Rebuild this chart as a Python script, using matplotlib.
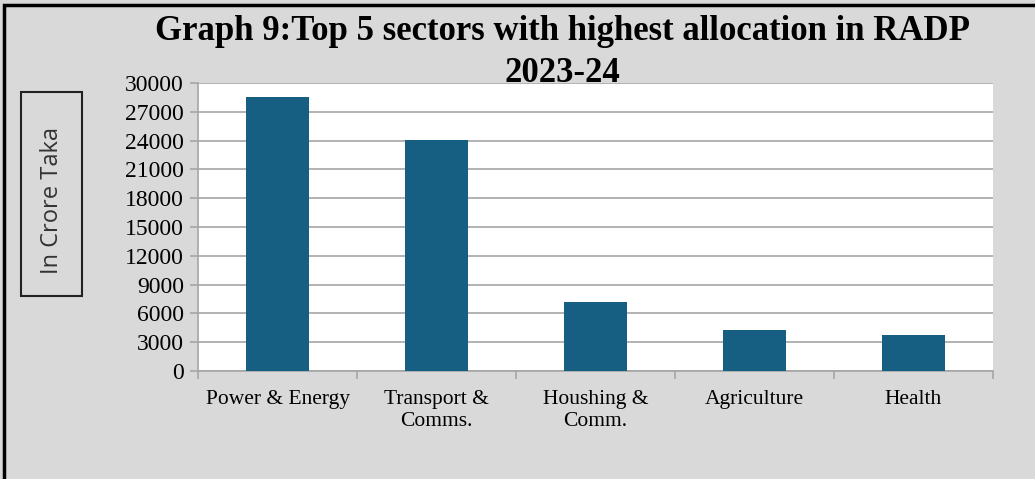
import matplotlib
matplotlib.use("Agg")
import matplotlib.pyplot as plt
from matplotlib.patches import Rectangle
import numpy as np

categories = ["Power & Energy", "Transport &\nComms.", "Houshing &\nComm.", "Agriculture", "Health"]
values = [28550, 24100, 7150, 4300, 3800]
yticks = list(range(0, 30001, 3000))

bg = "#d9d9d9"
bar_color = "#175f82"
grid_color = "#a6a6a6"
serif = ["Liberation Serif", "DejaVu Serif"]

fig = plt.figure(figsize=(10.35, 4.79), dpi=100, facecolor=bg)
ax = fig.add_axes([198/1035, 1-371/479, (993-198)/1035, (371-83)/479])
ax.set_facecolor("white")

x = np.arange(len(categories))
ax.bar(x, values, width=0.4, color=bar_color, zorder=3)
ax.set_xlim(-0.5, len(categories)-0.5)
ax.set_ylim(0, 30000)
ax.set_yticks(yticks)
ax.set_yticklabels([str(t) for t in yticks], fontfamily=serif, fontsize=17)
ax.yaxis.grid(True, color=grid_color, linewidth=1.2, zorder=0)
ax.set_axisbelow(True)

ax.set_xticks(np.arange(len(categories)+1) - 0.5)
ax.set_xticklabels([])
ax.set_xticks(x, minor=True)
ax.set_xticklabels(categories, minor=True, fontfamily=serif, fontsize=15.5, linespacing=1.2)
ax.tick_params(axis="x", which="minor", length=0, pad=14)
ax.tick_params(axis="x", which="major", length=6, color=grid_color, width=1.2, direction="out")
ax.tick_params(axis="y", length=6, color=grid_color, width=1.2, direction="out", pad=4)

for s in ["top", "right"]:
    ax.spines[s].set_visible(False)
for s in ["left", "bottom"]:
    ax.spines[s].set_color(grid_color)
    ax.spines[s].set_linewidth(1.2)

fig.text(0.543, 1-32/479, "Graph 9:Top 5 sectors with highest allocation in RADP",
         ha="center", va="center", fontfamily=serif, fontweight="bold", fontsize=25)
fig.text(0.543, 1-73/479, "2023-24",
         ha="center", va="center", fontfamily=serif, fontweight="bold", fontsize=25)

# y-label box
fig.patches.append(Rectangle((21/1035, 1-296/479), 61/1035, 204/479, transform=fig.transFigure,
                             facecolor=bg, edgecolor="#222222", linewidth=1.5))
fig.text(52/1035, 1-201/479, "In Crore Taka", rotation=90, ha="center", va="center",
         fontfamily=["Open Sans", "DejaVu Sans"], fontsize=17, color="#333333")

# figure border
fig.patches.append(Rectangle((0.004, -0.01), 1.2, 1.0, transform=fig.transFigure,
                             facecolor="none", edgecolor="black", linewidth=2.5))

fig.savefig("out.png", dpi=100, facecolor=bg)
